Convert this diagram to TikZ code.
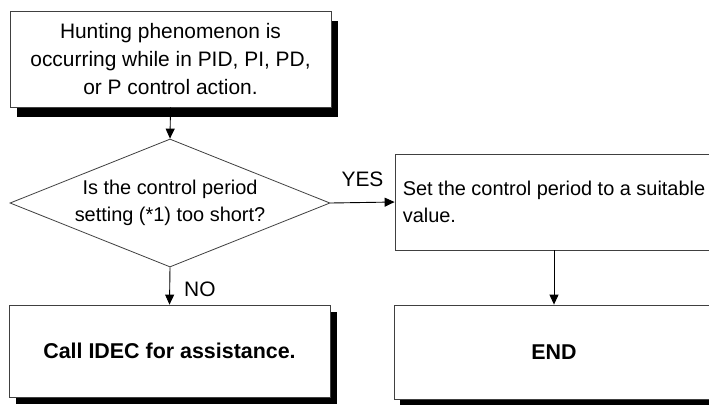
\documentclass[tikz,border=0pt]{standalone}
\usepackage{fontspec}
\setmainfont{Liberation Sans}
\usetikzlibrary{shapes.geometric,arrows.meta,shadows}
\begin{document}
\begin{tikzpicture}[x=1bp,y=-1bp,
  every node/.style={font=\fontsize{20}{27}\selectfont},
  box/.style={draw=black!75,line width=0.8bp,fill=white,inner sep=0pt,align=center},
  boxshadow/.style 2 args={drop shadow={shadow xshift=#1,shadow yshift=#2,fill=black,opacity=1}},
  flow/.style={-{Triangle[length=10bp,width=9bp]},line width=0.9bp},
  tag/.style={inner sep=0pt,font=\fontsize{21}{27}\selectfont}]
\useasboundingbox (0,0) rectangle (709,405);
% boxes
\node[box,boxshadow={7bp}{-10bp},minimum width=321bp,minimum height=96bp,font=\fontsize{21}{28}\selectfont] (hunt) at (170.5,59) {Hunting phenomenon is\\occurring while in PID, PI, PD,\\or P control action.};
\node[box,shape=diamond,aspect=2.5,minimum width=320bp,minimum height=128bp] (period) at (170,203) {Is the control period\\setting (*1) too short?};
\node[box,minimum width=318bp,minimum height=96bp,align=left] (adjust) at (554,202) {Set the control period to a suitable\\value.};
\node[box,boxshadow={7bp}{-7bp},minimum width=321bp,minimum height=92bp,font=\fontsize{21.5}{27}\selectfont\bfseries] (call) at (169.5,351) {Call IDEC for assistance.};
\node[box,boxshadow={6bp}{-6bp},minimum width=320bp,minimum height=94bp,font=\fontsize{21.5}{27}\selectfont\bfseries] (finish) at (554,352) {END};
% connectors
\draw[flow] (hunt.south) -- (period.north);
\draw[flow] (period.east) -- node[tag,midway,above=15bp] {YES} (adjust.west);
\draw[flow] (period.south) -- node[tag,midway,right=14bp,yshift=-3bp] {NO} (call.north);
\draw[flow] (adjust.south) -- (finish.north);
\end{tikzpicture}
\end{document}
